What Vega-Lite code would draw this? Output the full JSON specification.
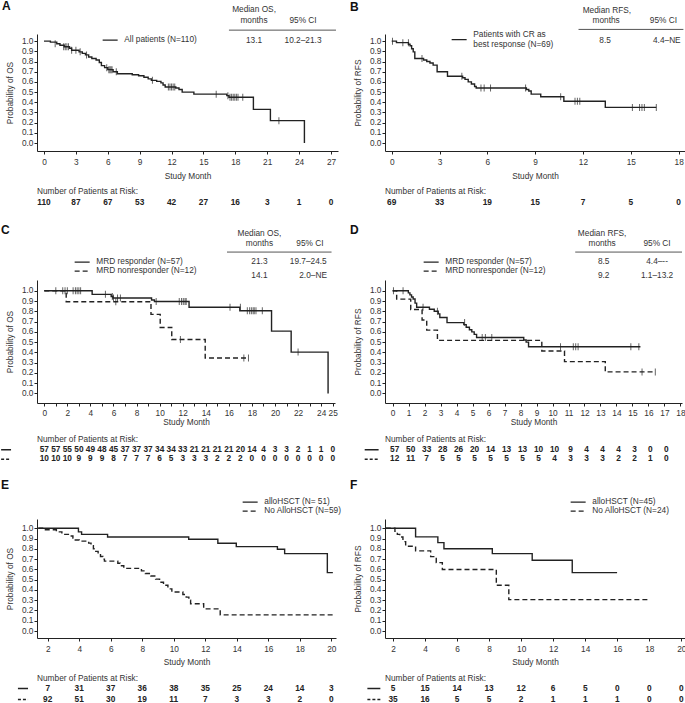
{
"$schema": "https://vega.github.io/schema/vega-lite/v6.json",
"padding": {"left": 0, "top": 0, "right": 0, "bottom": 0},
"background": "white",
"config": {
  "font": "Liberation Sans",
  "view": {"stroke": null},
  "axis": {"labelFontSize": 8.3, "labelColor": "#333", "titleFontSize": 8.3, "titleFontWeight": "normal", "titleColor": "#333", "domainColor": "#222", "tickColor": "#222", "tickSize": 3, "grid": false, "labelFlush": false, "labelOverlap": false},
  "axisX": {"titlePadding": 6.5, "labelPadding": 3},
  "axisY": {"titlePadding": 7, "labelPadding": 1},
  "legend": {"symbolType": "M-3,0H3", "symbolStrokeWidth": 1.4, "symbolSize": 25, "labelFontSize": 8.3, "labelColor": "#333", "rowPadding": 1, "labelOffset": 10, "padding": 0},
  "title": {"color": "#111"},
  "text": {"fontSize": 8.3, "color": "#333"}
},
"datasets": {
  "A_steps": [
    {"t":0,"s":1.0},{"t":0.6,"s":0.99},{"t":1.2,"s":0.975},{"t":1.5,"s":0.96},{"t":1.9,"s":0.945},{"t":2.4,"s":0.93},{"t":2.6,"s":0.91},{"t":3.3,"s":0.895},{"t":3.6,"s":0.88},{"t":3.9,"s":0.865},{"t":4.2,"s":0.845},{"t":4.5,"s":0.83},{"t":4.9,"s":0.815},{"t":5.2,"s":0.79},{"t":5.4,"s":0.76},{"t":5.7,"s":0.74},{"t":6.0,"s":0.72},{"t":6.5,"s":0.70},{"t":6.9,"s":0.68},{"t":8.3,"s":0.67},{"t":8.9,"s":0.66},{"t":9.4,"s":0.645},{"t":9.8,"s":0.63},{"t":10.1,"s":0.615},{"t":10.6,"s":0.605},{"t":11.0,"s":0.59},{"t":11.2,"s":0.57},{"t":11.4,"s":0.55},{"t":12.4,"s":0.54},{"t":12.7,"s":0.525},{"t":13.0,"s":0.50},{"t":14.1,"s":0.48},{"t":17.2,"s":0.465},{"t":17.4,"s":0.45},{"t":19.7,"s":0.33},{"t":21.3,"s":0.22},{"t":24.5,"s":0.0}
  ],
  "A_cens": [
    {"t":1.05,"s":0.975},{"t":1.85,"s":0.945},{"t":2.0,"s":0.945},{"t":2.15,"s":0.945},{"t":2.3,"s":0.945},{"t":2.6,"s":0.91},{"t":3.0,"s":0.91},{"t":3.4,"s":0.895},{"t":4.0,"s":0.865},{"t":5.9,"s":0.74},{"t":6.1,"s":0.72},{"t":6.2,"s":0.72},{"t":6.3,"s":0.72},{"t":6.4,"s":0.72},{"t":6.8,"s":0.70},{"t":10.2,"s":0.615},{"t":11.7,"s":0.55},{"t":11.85,"s":0.55},{"t":12.0,"s":0.55},{"t":12.15,"s":0.55},{"t":12.3,"s":0.55},{"t":16.2,"s":0.48},{"t":17.3,"s":0.465},{"t":17.5,"s":0.45},{"t":17.65,"s":0.45},{"t":17.8,"s":0.45},{"t":17.95,"s":0.45},{"t":18.1,"s":0.45},{"t":18.25,"s":0.45},{"t":18.7,"s":0.45},{"t":22.1,"s":0.22}
  ],
  "A_risk": [
    {"t":0,"n":110,"g":"solid"},{"t":3,"n":87,"g":"solid"},{"t":6,"n":67,"g":"solid"},{"t":9,"n":53,"g":"solid"},{"t":12,"n":42,"g":"solid"},{"t":15,"n":27,"g":"solid"},{"t":18,"n":16,"g":"solid"},{"t":21,"n":3,"g":"solid"},{"t":24,"n":1,"g":"solid"},{"t":27,"n":0,"g":"solid"}
  ],
  "B_steps": [
    {"t":0,"s":1.0},{"t":0.3,"s":0.985},{"t":1.05,"s":0.97},{"t":1.15,"s":0.955},{"t":1.25,"s":0.925},{"t":1.35,"s":0.895},{"t":1.45,"s":0.83},{"t":2.0,"s":0.815},{"t":2.2,"s":0.80},{"t":2.4,"s":0.785},{"t":2.6,"s":0.765},{"t":2.85,"s":0.70},{"t":3.5,"s":0.655},{"t":4.45,"s":0.64},{"t":4.6,"s":0.625},{"t":4.8,"s":0.60},{"t":5.0,"s":0.58},{"t":5.2,"s":0.555},{"t":5.3,"s":0.54},{"t":8.45,"s":0.525},{"t":8.6,"s":0.51},{"t":8.75,"s":0.48},{"t":9.35,"s":0.455},{"t":10.8,"s":0.41},{"t":13.4,"s":0.35},{"t":16.6,"s":0.35}
  ],
  "B_cens": [
    {"t":0.05,"s":1.0},{"t":0.7,"s":0.985},{"t":1.05,"s":0.985},{"t":1.9,"s":0.83},{"t":4.4,"s":0.655},{"t":5.6,"s":0.54},{"t":5.8,"s":0.54},{"t":6.2,"s":0.54},{"t":8.4,"s":0.54},{"t":10.6,"s":0.455},{"t":11.5,"s":0.41},{"t":11.65,"s":0.41},{"t":11.8,"s":0.41},{"t":15.1,"s":0.35},{"t":15.55,"s":0.35},{"t":15.7,"s":0.35},{"t":15.85,"s":0.35},{"t":16.6,"s":0.35}
  ],
  "B_risk": [
    {"t":0,"n":69,"g":"solid"},{"t":3,"n":33,"g":"solid"},{"t":6,"n":19,"g":"solid"},{"t":9,"n":15,"g":"solid"},{"t":12,"n":7,"g":"solid"},{"t":15,"n":5,"g":"solid"},{"t":18,"n":0,"g":"solid"}
  ],
  "C_steps": [
    {"t":0,"s":1.0,"g":"MRD responder (N=57)"},{"t":4.15,"s":0.965,"g":"MRD responder (N=57)"},{"t":5.8,"s":0.945,"g":"MRD responder (N=57)"},{"t":5.95,"s":0.93,"g":"MRD responder (N=57)"},{"t":9.3,"s":0.91,"g":"MRD responder (N=57)"},{"t":9.55,"s":0.895,"g":"MRD responder (N=57)"},{"t":12.55,"s":0.84,"g":"MRD responder (N=57)"},{"t":16.95,"s":0.805,"g":"MRD responder (N=57)"},{"t":19.7,"s":0.607,"g":"MRD responder (N=57)"},{"t":21.4,"s":0.403,"g":"MRD responder (N=57)"},{"t":24.6,"s":0.0,"g":"MRD responder (N=57)"},
    {"t":0,"s":1.0,"g":"MRD nonresponder (N=12)"},{"t":1.9,"s":0.893,"g":"MRD nonresponder (N=12)"},{"t":9.25,"s":0.77,"g":"MRD nonresponder (N=12)"},{"t":10.05,"s":0.643,"g":"MRD nonresponder (N=12)"},{"t":11.05,"s":0.525,"g":"MRD nonresponder (N=12)"},{"t":13.95,"s":0.345,"g":"MRD nonresponder (N=12)"},{"t":17.7,"s":0.345,"g":"MRD nonresponder (N=12)"}
  ],
  "C_cens": [
    {"t":1.0,"s":1.0},{"t":1.6,"s":1.0},{"t":1.8,"s":1.0},{"t":2.0,"s":1.0},{"t":2.5,"s":1.0},{"t":2.7,"s":1.0},{"t":2.85,"s":1.0},{"t":3.0,"s":1.0},{"t":3.15,"s":1.0},{"t":5.3,"s":0.965},{"t":5.9,"s":0.945},{"t":6.0,"s":0.93},{"t":6.35,"s":0.93},{"t":6.6,"s":0.93},{"t":9.7,"s":0.895},{"t":11.7,"s":0.895},{"t":11.9,"s":0.895},{"t":12.05,"s":0.895},{"t":12.2,"s":0.895},{"t":12.3,"s":0.895},{"t":16.1,"s":0.84},{"t":17.0,"s":0.84},{"t":17.6,"s":0.805},{"t":17.8,"s":0.805},{"t":17.95,"s":0.805},{"t":18.1,"s":0.805},{"t":18.2,"s":0.805},{"t":18.35,"s":0.805},{"t":18.9,"s":0.805},{"t":22.0,"s":0.403},
    {"t":6.2,"s":0.893},{"t":11.8,"s":0.525},{"t":17.3,"s":0.345},{"t":17.7,"s":0.345}
  ],
  "C_risk": [
    {"t":0,"n":57,"g":"solid"},{"t":1,"n":57,"g":"solid"},{"t":2,"n":55,"g":"solid"},{"t":3,"n":50,"g":"solid"},{"t":4,"n":49,"g":"solid"},{"t":5,"n":48,"g":"solid"},{"t":6,"n":45,"g":"solid"},{"t":7,"n":37,"g":"solid"},{"t":8,"n":37,"g":"solid"},{"t":9,"n":37,"g":"solid"},{"t":10,"n":34,"g":"solid"},{"t":11,"n":34,"g":"solid"},{"t":12,"n":33,"g":"solid"},{"t":13,"n":21,"g":"solid"},{"t":14,"n":21,"g":"solid"},{"t":15,"n":21,"g":"solid"},{"t":16,"n":21,"g":"solid"},{"t":17,"n":20,"g":"solid"},{"t":18,"n":14,"g":"solid"},{"t":19,"n":4,"g":"solid"},{"t":20,"n":3,"g":"solid"},{"t":21,"n":3,"g":"solid"},{"t":22,"n":2,"g":"solid"},{"t":23,"n":1,"g":"solid"},{"t":24,"n":1,"g":"solid"},{"t":25,"n":0,"g":"solid"},
    {"t":0,"n":10,"g":"dashed"},{"t":1,"n":10,"g":"dashed"},{"t":2,"n":10,"g":"dashed"},{"t":3,"n":9,"g":"dashed"},{"t":4,"n":9,"g":"dashed"},{"t":5,"n":9,"g":"dashed"},{"t":6,"n":8,"g":"dashed"},{"t":7,"n":7,"g":"dashed"},{"t":8,"n":7,"g":"dashed"},{"t":9,"n":7,"g":"dashed"},{"t":10,"n":6,"g":"dashed"},{"t":11,"n":5,"g":"dashed"},{"t":12,"n":3,"g":"dashed"},{"t":13,"n":3,"g":"dashed"},{"t":14,"n":3,"g":"dashed"},{"t":15,"n":2,"g":"dashed"},{"t":16,"n":2,"g":"dashed"},{"t":17,"n":2,"g":"dashed"},{"t":18,"n":0,"g":"dashed"},{"t":19,"n":0,"g":"dashed"},{"t":20,"n":0,"g":"dashed"},{"t":21,"n":0,"g":"dashed"},{"t":22,"n":0,"g":"dashed"},{"t":23,"n":0,"g":"dashed"},{"t":24,"n":0,"g":"dashed"},{"t":25,"n":0,"g":"dashed"}
  ],
  "D_steps": [
    {"t":0,"s":1.0,"g":"MRD responder (N=57)"},{"t":0.98,"s":0.98,"g":"MRD responder (N=57)"},{"t":1.08,"s":0.96,"g":"MRD responder (N=57)"},{"t":1.18,"s":0.94,"g":"MRD responder (N=57)"},{"t":1.28,"s":0.92,"g":"MRD responder (N=57)"},{"t":1.4,"s":0.88,"g":"MRD responder (N=57)"},{"t":1.5,"s":0.84,"g":"MRD responder (N=57)"},{"t":2.3,"s":0.82,"g":"MRD responder (N=57)"},{"t":2.6,"s":0.80,"g":"MRD responder (N=57)"},{"t":2.85,"s":0.775,"g":"MRD responder (N=57)"},{"t":2.95,"s":0.74,"g":"MRD responder (N=57)"},{"t":3.4,"s":0.69,"g":"MRD responder (N=57)"},{"t":4.45,"s":0.67,"g":"MRD responder (N=57)"},{"t":4.6,"s":0.645,"g":"MRD responder (N=57)"},{"t":4.8,"s":0.62,"g":"MRD responder (N=57)"},{"t":4.95,"s":0.60,"g":"MRD responder (N=57)"},{"t":5.1,"s":0.575,"g":"MRD responder (N=57)"},{"t":5.25,"s":0.545,"g":"MRD responder (N=57)"},{"t":8.2,"s":0.52,"g":"MRD responder (N=57)"},{"t":8.35,"s":0.50,"g":"MRD responder (N=57)"},{"t":8.5,"s":0.455,"g":"MRD responder (N=57)"},{"t":15.5,"s":0.455,"g":"MRD responder (N=57)"},
    {"t":0,"s":1.0,"g":"MRD nonresponder (N=12)"},{"t":0.25,"s":0.919,"g":"MRD nonresponder (N=12)"},{"t":1.13,"s":0.818,"g":"MRD nonresponder (N=12)"},{"t":1.84,"s":0.716,"g":"MRD nonresponder (N=12)"},{"t":2.13,"s":0.617,"g":"MRD nonresponder (N=12)"},{"t":2.8,"s":0.517,"g":"MRD nonresponder (N=12)"},{"t":9.33,"s":0.414,"g":"MRD nonresponder (N=12)"},{"t":10.75,"s":0.31,"g":"MRD nonresponder (N=12)"},{"t":13.3,"s":0.21,"g":"MRD nonresponder (N=12)"},{"t":16.43,"s":0.21,"g":"MRD nonresponder (N=12)"}
  ],
  "D_cens": [
    {"t":0.05,"s":1.0},{"t":0.65,"s":1.0},{"t":1.9,"s":0.84},{"t":2.8,"s":0.80},{"t":4.5,"s":0.69},{"t":5.6,"s":0.545},{"t":5.8,"s":0.545},{"t":6.2,"s":0.545},{"t":10.5,"s":0.455},{"t":11.3,"s":0.455},{"t":11.45,"s":0.455},{"t":11.6,"s":0.455},{"t":14.9,"s":0.455},{"t":15.4,"s":0.455},
    {"t":15.6,"s":0.21},{"t":16.43,"s":0.21}
  ],
  "D_risk": [
    {"t":0,"n":57,"g":"solid"},{"t":1,"n":50,"g":"solid"},{"t":2,"n":33,"g":"solid"},{"t":3,"n":28,"g":"solid"},{"t":4,"n":26,"g":"solid"},{"t":5,"n":20,"g":"solid"},{"t":6,"n":14,"g":"solid"},{"t":7,"n":13,"g":"solid"},{"t":8,"n":13,"g":"solid"},{"t":9,"n":10,"g":"solid"},{"t":10,"n":10,"g":"solid"},{"t":11,"n":9,"g":"solid"},{"t":12,"n":4,"g":"solid"},{"t":13,"n":4,"g":"solid"},{"t":14,"n":4,"g":"solid"},{"t":15,"n":3,"g":"solid"},{"t":16,"n":0,"g":"solid"},{"t":17,"n":0,"g":"solid"},
    {"t":0,"n":12,"g":"dashed"},{"t":1,"n":11,"g":"dashed"},{"t":2,"n":7,"g":"dashed"},{"t":3,"n":5,"g":"dashed"},{"t":4,"n":5,"g":"dashed"},{"t":5,"n":5,"g":"dashed"},{"t":6,"n":5,"g":"dashed"},{"t":7,"n":5,"g":"dashed"},{"t":8,"n":5,"g":"dashed"},{"t":9,"n":5,"g":"dashed"},{"t":10,"n":4,"g":"dashed"},{"t":11,"n":3,"g":"dashed"},{"t":12,"n":3,"g":"dashed"},{"t":13,"n":3,"g":"dashed"},{"t":14,"n":2,"g":"dashed"},{"t":15,"n":2,"g":"dashed"},{"t":16,"n":1,"g":"dashed"},{"t":17,"n":0,"g":"dashed"}
  ],
  "E_steps": [
    {"t":1.4,"s":1.0,"g":"alloHSCT (N= 51)"},{"t":3.95,"s":0.965,"g":"alloHSCT (N= 51)"},{"t":4.15,"s":0.94,"g":"alloHSCT (N= 51)"},{"t":5.8,"s":0.915,"g":"alloHSCT (N= 51)"},{"t":10.95,"s":0.893,"g":"alloHSCT (N= 51)"},{"t":12.8,"s":0.854,"g":"alloHSCT (N= 51)"},{"t":13.97,"s":0.821,"g":"alloHSCT (N= 51)"},{"t":16.58,"s":0.795,"g":"alloHSCT (N= 51)"},{"t":17.04,"s":0.753,"g":"alloHSCT (N= 51)"},{"t":19.75,"s":0.568,"g":"alloHSCT (N= 51)"},{"t":20.1,"s":0.568,"g":"alloHSCT (N= 51)"},
    {"t":1.4,"s":1.0,"g":"No AlloHSCT (N=59)"},{"t":1.8,"s":0.985,"g":"No AlloHSCT (N=59)"},{"t":2.55,"s":0.965,"g":"No AlloHSCT (N=59)"},{"t":2.9,"s":0.94,"g":"No AlloHSCT (N=59)"},{"t":3.4,"s":0.925,"g":"No AlloHSCT (N=59)"},{"t":3.6,"s":0.905,"g":"No AlloHSCT (N=59)"},{"t":3.75,"s":0.885,"g":"No AlloHSCT (N=59)"},{"t":4.0,"s":0.875,"g":"No AlloHSCT (N=59)"},{"t":4.6,"s":0.855,"g":"No AlloHSCT (N=59)"},{"t":4.75,"s":0.83,"g":"No AlloHSCT (N=59)"},{"t":4.9,"s":0.80,"g":"No AlloHSCT (N=59)"},{"t":5.05,"s":0.775,"g":"No AlloHSCT (N=59)"},{"t":5.2,"s":0.75,"g":"No AlloHSCT (N=59)"},{"t":5.35,"s":0.725,"g":"No AlloHSCT (N=59)"},{"t":5.5,"s":0.70,"g":"No AlloHSCT (N=59)"},{"t":5.6,"s":0.68,"g":"No AlloHSCT (N=59)"},{"t":6.45,"s":0.66,"g":"No AlloHSCT (N=59)"},{"t":6.6,"s":0.635,"g":"No AlloHSCT (N=59)"},{"t":6.83,"s":0.61,"g":"No AlloHSCT (N=59)"},{"t":7.95,"s":0.585,"g":"No AlloHSCT (N=59)"},{"t":8.2,"s":0.56,"g":"No AlloHSCT (N=59)"},{"t":8.55,"s":0.535,"g":"No AlloHSCT (N=59)"},{"t":8.85,"s":0.505,"g":"No AlloHSCT (N=59)"},{"t":9.1,"s":0.475,"g":"No AlloHSCT (N=59)"},{"t":9.35,"s":0.445,"g":"No AlloHSCT (N=59)"},{"t":9.63,"s":0.41,"g":"No AlloHSCT (N=59)"},{"t":9.88,"s":0.38,"g":"No AlloHSCT (N=59)"},{"t":10.58,"s":0.355,"g":"No AlloHSCT (N=59)"},{"t":10.79,"s":0.33,"g":"No AlloHSCT (N=59)"},{"t":10.96,"s":0.30,"g":"No AlloHSCT (N=59)"},{"t":11.07,"s":0.265,"g":"No AlloHSCT (N=59)"},{"t":11.9,"s":0.215,"g":"No AlloHSCT (N=59)"},{"t":12.95,"s":0.157,"g":"No AlloHSCT (N=59)"},{"t":20.1,"s":0.157,"g":"No AlloHSCT (N=59)"}
  ],
  "E_risk": [
    {"t":2,"n":7,"g":"solid"},{"t":4,"n":31,"g":"solid"},{"t":6,"n":37,"g":"solid"},{"t":8,"n":36,"g":"solid"},{"t":10,"n":38,"g":"solid"},{"t":12,"n":35,"g":"solid"},{"t":14,"n":25,"g":"solid"},{"t":16,"n":24,"g":"solid"},{"t":18,"n":14,"g":"solid"},{"t":20,"n":3,"g":"solid"},
    {"t":2,"n":92,"g":"dashed"},{"t":4,"n":51,"g":"dashed"},{"t":6,"n":30,"g":"dashed"},{"t":8,"n":19,"g":"dashed"},{"t":10,"n":11,"g":"dashed"},{"t":12,"n":7,"g":"dashed"},{"t":14,"n":3,"g":"dashed"},{"t":16,"n":3,"g":"dashed"},{"t":18,"n":2,"g":"dashed"},{"t":20,"n":0,"g":"dashed"}
  ],
  "F_steps": [
    {"t":1.55,"s":1.0,"g":"alloHSCT (N=45)"},{"t":3.41,"s":0.916,"g":"alloHSCT (N=45)"},{"t":4.8,"s":0.86,"g":"alloHSCT (N=45)"},{"t":5.18,"s":0.80,"g":"alloHSCT (N=45)"},{"t":8.2,"s":0.753,"g":"alloHSCT (N=45)"},{"t":10.69,"s":0.688,"g":"alloHSCT (N=45)"},{"t":13.19,"s":0.568,"g":"alloHSCT (N=45)"},{"t":15.99,"s":0.568,"g":"alloHSCT (N=45)"},
    {"t":1.55,"s":1.0,"g":"No AlloHSCT (N=24)"},{"t":2.12,"s":0.97,"g":"No AlloHSCT (N=24)"},{"t":2.27,"s":0.94,"g":"No AlloHSCT (N=24)"},{"t":2.42,"s":0.915,"g":"No AlloHSCT (N=24)"},{"t":2.62,"s":0.87,"g":"No AlloHSCT (N=24)"},{"t":2.79,"s":0.825,"g":"No AlloHSCT (N=24)"},{"t":3.41,"s":0.78,"g":"No AlloHSCT (N=24)"},{"t":4.35,"s":0.724,"g":"No AlloHSCT (N=24)"},{"t":4.7,"s":0.665,"g":"No AlloHSCT (N=24)"},{"t":5.08,"s":0.598,"g":"No AlloHSCT (N=24)"},{"t":8.45,"s":0.445,"g":"No AlloHSCT (N=24)"},{"t":9.23,"s":0.305,"g":"No AlloHSCT (N=24)"},{"t":17.97,"s":0.305,"g":"No AlloHSCT (N=24)"}
  ],
  "F_risk": [
    {"t":2,"n":5,"g":"solid"},{"t":4,"n":15,"g":"solid"},{"t":6,"n":14,"g":"solid"},{"t":8,"n":13,"g":"solid"},{"t":10,"n":12,"g":"solid"},{"t":12,"n":6,"g":"solid"},{"t":14,"n":5,"g":"solid"},{"t":16,"n":0,"g":"solid"},{"t":18,"n":0,"g":"solid"},{"t":20,"n":0,"g":"solid"},
    {"t":2,"n":35,"g":"dashed"},{"t":4,"n":16,"g":"dashed"},{"t":6,"n":5,"g":"dashed"},{"t":8,"n":5,"g":"dashed"},{"t":10,"n":2,"g":"dashed"},{"t":12,"n":1,"g":"dashed"},{"t":14,"n":1,"g":"dashed"},{"t":16,"n":1,"g":"dashed"},{"t":18,"n":0,"g":"dashed"},{"t":20,"n":0,"g":"dashed"}
  ],
  "groups2": [{"g":"solid"},{"g":"dashed"}]
},
"columns": 2,
"align": "each",
"spacing": {"row": 15, "column": 8},
"resolve": {"scale": {"x": "independent", "y": "independent", "strokeDash": "independent"}, "legend": {"strokeDash": "independent"}},
"concat": [
 {
  "spacing": 5,
  "resolve": {"scale": {"x": "independent", "y": "independent", "strokeDash": "independent"}, "legend": {"strokeDash": "independent"}},
  "vconcat": [
   {
    "width": 301, "height": 117,
    "title": {"text": "A", "anchor": "start", "frame": "group", "dx": -35, "offset": -8, "fontSize": 12, "fontWeight": "bold"},
    "resolve": {"axis": {"x": "independent", "y": "independent"}},
    "layer": [
     {"data": {"name": "A_steps"}, "mark": {"type": "line", "interpolate": "step-after", "strokeWidth": 1.4, "color": "#222"},
      "encoding": {
       "x": {"field": "t", "type": "quantitative", "scale": {"domain": [-0.66, 27.66], "nice": false, "zero": false}, "axis": {"values": [0,3,6,9,12,15,18,21,24,27], "format": "d", "title": "Study Month", "labelOverlap": false}},
       "y": {"field": "s", "type": "quantitative", "scale": {"domain": [-0.078, 1.07], "nice": false, "zero": false}, "axis": {"values": [0,0.1,0.2,0.3,0.4,0.5,0.6,0.7,0.8,0.9,1], "format": ".1f", "title": "Probability of OS", "labelOverlap": false}},
       "strokeDash": {"datum": "All patients (N=110)", "scale": {"domain": ["All patients (N=110)"], "range": [[1,0]]}, "legend": {"title": null, "orient": "none", "legendX": 69, "legendY": 2}}
      }},
     {"data": {"name": "A_cens"}, "mark": {"type": "tick", "orient": "vertical", "size": 7, "thickness": 1, "color": "#222"},
      "encoding": {"x": {"field": "t", "type": "quantitative", "axis": null}, "y": {"field": "s", "type": "quantitative", "axis": null}}},
     {"data": {"values": [{}]}, "mark": {"type": "text", "text": "Median OS,"}, "encoding": {"x": {"datum": 19.76, "axis": null}, "y": {"datum": 1.301, "axis": null}}},
     {"data": {"values": [{}]}, "mark": {"type": "text", "text": "months"}, "encoding": {"x": {"datum": 19.76, "axis": null}, "y": {"datum": 1.196, "axis": null}}},
     {"data": {"values": [{}]}, "mark": {"type": "text", "text": "95% CI"}, "encoding": {"x": {"datum": 24.37, "axis": null}, "y": {"datum": 1.196, "axis": null}}},
     {"data": {"values": [{}]}, "mark": {"type": "rule", "color": "#555", "strokeWidth": 1}, "encoding": {"x": {"datum": 17.4, "axis": null}, "x2": {"datum": 27.47}, "y": {"datum": 1.108, "axis": null}}},
     {"data": {"values": [{}]}, "mark": {"type": "text", "text": "13.1"}, "encoding": {"x": {"datum": 19.76, "axis": null}, "y": {"datum": 1.0, "axis": null}}},
     {"data": {"values": [{}]}, "mark": {"type": "text", "text": "10.2–21.3"}, "encoding": {"x": {"datum": 24.37, "axis": null}, "y": {"datum": 1.0, "axis": null}}}
    ]
   },
   {
    "width": 301, "height": 12,
    "title": {"text": "Number of Patients at Risk:", "anchor": "start", "frame": "group", "fontSize": 8.3, "fontWeight": "normal", "offset": 2, "color": "#333"},
    "data": {"name": "A_risk"},
    "mark": {"type": "text", "fontWeight": "bold", "fontSize": 8.3, "color": "#222"},
    "encoding": {
     "x": {"field": "t", "type": "quantitative", "scale": {"domain": [-0.66, 27.66], "nice": false, "zero": false}, "axis": null},
     "y": {"field": "g", "type": "nominal", "axis": null},
     "text": {"field": "n", "type": "quantitative"}
    }
   }
  ]
 },
 {
  "spacing": 5,
  "resolve": {"scale": {"x": "independent", "y": "independent", "strokeDash": "independent"}, "legend": {"strokeDash": "independent"}},
  "vconcat": [
   {
    "width": 300, "height": 117,
    "title": {"text": "B", "anchor": "start", "frame": "group", "dx": -35, "offset": -8, "fontSize": 12, "fontWeight": "bold"},
    "resolve": {"axis": {"x": "independent", "y": "independent"}},
    "layer": [
     {"data": {"name": "B_steps"}, "mark": {"type": "line", "interpolate": "step-after", "strokeWidth": 1.4, "color": "#222"},
      "encoding": {
       "x": {"field": "t", "type": "quantitative", "scale": {"domain": [-0.42, 18.4], "nice": false, "zero": false}, "axis": {"values": [0,3,6,9,12,15,18], "format": "d", "title": "Study Month", "labelOverlap": false}},
       "y": {"field": "s", "type": "quantitative", "scale": {"domain": [-0.078, 1.07], "nice": false, "zero": false}, "axis": {"values": [0,0.1,0.2,0.3,0.4,0.5,0.6,0.7,0.8,0.9,1], "format": ".1f", "title": "Probability of RFS", "labelOverlap": false}},
       "strokeDash": {"datum": "Patients with CR as best response (N=69)", "scale": {"domain": ["Patients with CR as best response (N=69)"], "range": [[1,0]]}, "legend": {"title": null, "orient": "none", "legendX": 70, "legendY": -3, "symbolType": "M-3,1.8H3", "labelExpr": "['Patients with CR as', 'best response (N=69)']"}}
      }},
     {"data": {"name": "B_cens"}, "mark": {"type": "tick", "orient": "vertical", "size": 7, "thickness": 1, "color": "#222"},
      "encoding": {"x": {"field": "t", "type": "quantitative", "axis": null}, "y": {"field": "s", "type": "quantitative", "axis": null}}},
     {"data": {"values": [{}]}, "mark": {"type": "text", "text": "Median RFS,"}, "encoding": {"x": {"datum": 13.5, "axis": null}, "y": {"datum": 1.294, "axis": null}}},
     {"data": {"values": [{}]}, "mark": {"type": "text", "text": "months"}, "encoding": {"x": {"datum": 13.45, "axis": null}, "y": {"datum": 1.196, "axis": null}}},
     {"data": {"values": [{}]}, "mark": {"type": "text", "text": "95% CI"}, "encoding": {"x": {"datum": 17.05, "axis": null}, "y": {"datum": 1.196, "axis": null}}},
     {"data": {"values": [{}]}, "mark": {"type": "rule", "color": "#555", "strokeWidth": 1}, "encoding": {"x": {"datum": 11.72, "axis": null}, "x2": {"datum": 18.3}, "y": {"datum": 1.115, "axis": null}}},
     {"data": {"values": [{}]}, "mark": {"type": "text", "text": "8.5"}, "encoding": {"x": {"datum": 13.39, "axis": null}, "y": {"datum": 1.0, "axis": null}}},
     {"data": {"values": [{}]}, "mark": {"type": "text", "text": "4.4–NE"}, "encoding": {"x": {"datum": 17.26, "axis": null}, "y": {"datum": 1.0, "axis": null}}}
    ]
   },
   {
    "width": 300, "height": 12,
    "title": {"text": "Number of Patients at Risk:", "anchor": "start", "frame": "group", "fontSize": 8.3, "fontWeight": "normal", "offset": 2, "color": "#333"},
    "data": {"name": "B_risk"},
    "mark": {"type": "text", "fontWeight": "bold", "fontSize": 8.3, "color": "#222"},
    "encoding": {
     "x": {"field": "t", "type": "quantitative", "scale": {"domain": [-0.42, 18.4], "nice": false, "zero": false}, "axis": null},
     "y": {"field": "g", "type": "nominal", "axis": null},
     "text": {"field": "n", "type": "quantitative"}
    }
   }
  ]
 },
 {
  "spacing": 9,
  "resolve": {"scale": {"x": "independent", "y": "independent", "strokeDash": "independent"}, "legend": {"strokeDash": "independent"}},
  "vconcat": [
   {
    "width": 298, "height": 123,
    "title": {"text": "C", "anchor": "start", "frame": "group", "dx": -36, "offset": -8, "fontSize": 12, "fontWeight": "bold"},
    "resolve": {"axis": {"x": "independent", "y": "independent"}},
    "layer": [
     {"data": {"name": "C_steps"}, "mark": {"type": "line", "interpolate": "step-after", "strokeWidth": 1.4, "color": "#222"},
      "encoding": {
       "x": {"field": "t", "type": "quantitative", "scale": {"domain": [-0.63, 25.2], "nice": false, "zero": false}, "axis": {"values": [0,1,2,3,4,5,6,7,8,9,10,11,12,13,14,15,16,17,18,19,20,21,22,23,24,25], "labelExpr": "(datum.value % 2 === 0 || datum.value === 25) ? datum.label : ''", "title": "Study Month", "labelOverlap": false, "titlePadding": 1, "labelPadding": 2}},
       "y": {"field": "s", "type": "quantitative", "scale": {"domain": [-0.093, 1.105], "nice": false, "zero": false}, "axis": {"values": [0,0.1,0.2,0.3,0.4,0.5,0.6,0.7,0.8,0.9,1], "format": ".1f", "title": "Probability of OS", "labelOverlap": false}},
       "strokeDash": {"field": "g", "type": "nominal", "scale": {"domain": ["MRD responder (N=57)", "MRD nonresponder (N=12)"], "range": [[1,0],[5,3]]}, "legend": {"title": null, "orient": "none", "legendX": 41, "legendY": -22, "rowPadding": 0}}
      }},
     {"data": {"name": "C_cens"}, "mark": {"type": "tick", "orient": "vertical", "size": 7, "thickness": 1, "color": "#222"},
      "encoding": {"x": {"field": "t", "type": "quantitative", "axis": null}, "y": {"field": "s", "type": "quantitative", "axis": null}}},
     {"data": {"values": [{}]}, "mark": {"type": "text", "text": "Median OS,"}, "encoding": {"x": {"datum": 18.65, "axis": null}, "y": {"datum": 1.55, "axis": null}}},
     {"data": {"values": [{}]}, "mark": {"type": "text", "text": "months"}, "encoding": {"x": {"datum": 18.65, "axis": null}, "y": {"datum": 1.455, "axis": null}}},
     {"data": {"values": [{}]}, "mark": {"type": "text", "text": "95% CI"}, "encoding": {"x": {"datum": 23.03, "axis": null}, "y": {"datum": 1.455, "axis": null}}},
     {"data": {"values": [{}]}, "mark": {"type": "rule", "color": "#555", "strokeWidth": 1}, "encoding": {"x": {"datum": 15.84, "axis": null}, "x2": {"datum": 24.9}, "y": {"datum": 1.377, "axis": null}}},
     {"data": {"values": [{}]}, "mark": {"type": "text", "text": "21.3"}, "encoding": {"x": {"datum": 18.65, "axis": null}, "y": {"datum": 1.28, "axis": null}}},
     {"data": {"values": [{}]}, "mark": {"type": "text", "text": "19.7–24.5"}, "encoding": {"x": {"datum": 22.88, "axis": null}, "y": {"datum": 1.28, "axis": null}}},
     {"data": {"values": [{}]}, "mark": {"type": "text", "text": "14.1"}, "encoding": {"x": {"datum": 18.65, "axis": null}, "y": {"datum": 1.14, "axis": null}}},
     {"data": {"values": [{}]}, "mark": {"type": "text", "text": "2.0–NE"}, "encoding": {"x": {"datum": 23.3, "axis": null}, "y": {"datum": 1.14, "axis": null}}}
    ]
   },
   {
    "width": 298, "height": 19,
    "title": {"text": "Number of Patients at Risk:", "anchor": "start", "frame": "group", "fontSize": 8.3, "fontWeight": "normal", "offset": 1, "color": "#333"},
    "layer": [
     {"data": {"name": "C_risk"},
      "mark": {"type": "text", "fontWeight": "bold", "fontSize": 8.3, "color": "#222"},
      "encoding": {
       "x": {"field": "t", "type": "quantitative", "scale": {"domain": [-0.63, 25.2], "nice": false, "zero": false}, "axis": null},
       "y": {"field": "g", "type": "nominal", "scale": {"domain": ["solid", "dashed"]}, "axis": null},
       "text": {"field": "n", "type": "quantitative"}
      }},
     {"data": {"name": "groups2"},
      "mark": {"type": "rule", "strokeWidth": 1.4, "color": "#222"},
      "encoding": {
       "x": {"datum": -3.74}, "x2": {"datum": -2.88},
       "y": {"field": "g", "type": "nominal"},
       "strokeDash": {"field": "g", "type": "nominal", "scale": {"domain": ["solid", "dashed"], "range": [[1,0],[3,2]]}, "legend": null}
      }}
    ]
   }
  ]
 },
 {
  "spacing": 9,
  "resolve": {"scale": {"x": "independent", "y": "independent", "strokeDash": "independent"}, "legend": {"strokeDash": "independent"}},
  "vconcat": [
   {
    "width": 297, "height": 123,
    "title": {"text": "D", "anchor": "start", "frame": "group", "dx": -35, "offset": -8, "fontSize": 12, "fontWeight": "bold"},
    "resolve": {"axis": {"x": "independent", "y": "independent"}},
    "layer": [
     {"data": {"name": "D_steps"}, "mark": {"type": "line", "interpolate": "step-after", "strokeWidth": 1.4, "color": "#222"},
      "encoding": {
       "x": {"field": "t", "type": "quantitative", "scale": {"domain": [-0.48, 18.1], "nice": false, "zero": false}, "axis": {"values": [0,1,2,3,4,5,6,7,8,9,10,11,12,13,14,15,16,17,18], "format": "d", "title": "Study Month", "labelOverlap": false, "titlePadding": 1, "labelPadding": 2}},
       "y": {"field": "s", "type": "quantitative", "scale": {"domain": [-0.093, 1.105], "nice": false, "zero": false}, "axis": {"values": [0,0.1,0.2,0.3,0.4,0.5,0.6,0.7,0.8,0.9,1], "format": ".1f", "title": "Probability of RFS", "labelOverlap": false}},
       "strokeDash": {"field": "g", "type": "nominal", "scale": {"domain": ["MRD responder (N=57)", "MRD nonresponder (N=12)"], "range": [[1,0],[5,3]]}, "legend": {"title": null, "orient": "none", "legendX": 42, "legendY": -22, "rowPadding": 0}}
      }},
     {"data": {"name": "D_cens"}, "mark": {"type": "tick", "orient": "vertical", "size": 7, "thickness": 1, "color": "#222"},
      "encoding": {"x": {"field": "t", "type": "quantitative", "axis": null}, "y": {"field": "s", "type": "quantitative", "axis": null}}},
     {"data": {"values": [{}]}, "mark": {"type": "text", "text": "Median RFS,"}, "encoding": {"x": {"datum": 13.1, "axis": null}, "y": {"datum": 1.55, "axis": null}}},
     {"data": {"values": [{}]}, "mark": {"type": "text", "text": "months"}, "encoding": {"x": {"datum": 13.1, "axis": null}, "y": {"datum": 1.455, "axis": null}}},
     {"data": {"values": [{}]}, "mark": {"type": "text", "text": "95% CI"}, "encoding": {"x": {"datum": 16.54, "axis": null}, "y": {"datum": 1.455, "axis": null}}},
     {"data": {"values": [{}]}, "mark": {"type": "rule", "color": "#555", "strokeWidth": 1}, "encoding": {"x": {"datum": 11.42, "axis": null}, "x2": {"datum": 18.1}, "y": {"datum": 1.377, "axis": null}}},
     {"data": {"values": [{}]}, "mark": {"type": "text", "text": "8.5"}, "encoding": {"x": {"datum": 13.2, "axis": null}, "y": {"datum": 1.28, "axis": null}}},
     {"data": {"values": [{}]}, "mark": {"type": "text", "text": "4.4–--"}, "encoding": {"x": {"datum": 16.54, "axis": null}, "y": {"datum": 1.28, "axis": null}}},
     {"data": {"values": [{}]}, "mark": {"type": "text", "text": "9.2"}, "encoding": {"x": {"datum": 13.2, "axis": null}, "y": {"datum": 1.14, "axis": null}}},
     {"data": {"values": [{}]}, "mark": {"type": "text", "text": "1.1–13.2"}, "encoding": {"x": {"datum": 16.54, "axis": null}, "y": {"datum": 1.14, "axis": null}}}
    ]
   },
   {
    "width": 297, "height": 19,
    "title": {"text": "Number of Patients at Risk:", "anchor": "start", "frame": "group", "fontSize": 8.3, "fontWeight": "normal", "offset": 1, "color": "#333"},
    "layer": [
     {"data": {"name": "D_risk"},
      "mark": {"type": "text", "fontWeight": "bold", "fontSize": 8.3, "color": "#222", "dx": 2},
      "encoding": {
       "x": {"field": "t", "type": "quantitative", "scale": {"domain": [-0.48, 18.1], "nice": false, "zero": false}, "axis": null},
       "y": {"field": "g", "type": "nominal", "scale": {"domain": ["solid", "dashed"]}, "axis": null},
       "text": {"field": "n", "type": "quantitative"}
      }},
     {"data": {"name": "groups2"},
      "mark": {"type": "rule", "strokeWidth": 1.4, "color": "#222"},
      "encoding": {
       "x": {"datum": -1.75}, "x2": {"datum": -0.88},
       "y": {"field": "g", "type": "nominal"},
       "strokeDash": {"field": "g", "type": "nominal", "scale": {"domain": ["solid", "dashed"], "range": [[1,0],[3,2]]}, "legend": null}
      }}
    ]
   }
  ]
 },
 {
  "spacing": 7,
  "resolve": {"scale": {"x": "independent", "y": "independent", "strokeDash": "independent"}, "legend": {"strokeDash": "independent"}},
  "vconcat": [
   {
    "width": 299, "height": 119,
    "title": {"text": "E", "anchor": "start", "frame": "group", "dx": -36, "offset": 6, "fontSize": 12, "fontWeight": "bold"},
    "layer": [
     {"data": {"name": "E_steps"}, "mark": {"type": "line", "interpolate": "step-after", "strokeWidth": 1.4, "color": "#222"},
      "encoding": {
       "x": {"field": "t", "type": "quantitative", "scale": {"domain": [1.32, 20.3], "nice": false, "zero": false}, "axis": {"values": [2,4,6,8,10,12,14,16,18,20], "format": "d", "title": "Study Month", "labelOverlap": false, "titlePadding": 5}},
       "y": {"field": "s", "type": "quantitative", "scale": {"domain": [-0.068, 1.09], "nice": false, "zero": false}, "axis": {"values": [0,0.1,0.2,0.3,0.4,0.5,0.6,0.7,0.8,0.9,1], "format": ".1f", "title": "Probability of OS", "labelOverlap": false}},
       "strokeDash": {"field": "g", "type": "nominal", "scale": {"domain": ["alloHSCT (N= 51)", "No AlloHSCT (N=59)"], "range": [[1,0],[5,3]]}, "legend": {"title": null, "orient": "none", "legendX": 209, "legendY": -21, "rowPadding": 0}}
      }}
    ]
   },
   {
    "width": 299, "height": 22,
    "title": {"text": "Number of Patients at Risk:", "anchor": "start", "frame": "group", "fontSize": 8.3, "fontWeight": "normal", "offset": 1, "color": "#333"},
    "layer": [
     {"data": {"name": "E_risk"},
      "mark": {"type": "text", "fontWeight": "bold", "fontSize": 8.3, "color": "#222"},
      "encoding": {
       "x": {"field": "t", "type": "quantitative", "scale": {"domain": [1.32, 20.3], "nice": false, "zero": false}, "axis": null},
       "y": {"field": "g", "type": "nominal", "scale": {"domain": ["solid", "dashed"]}, "axis": null},
       "text": {"field": "n", "type": "quantitative"}
      }},
     {"data": {"name": "groups2"},
      "mark": {"type": "rule", "strokeWidth": 1.4, "color": "#222"},
      "encoding": {
       "x": {"datum": 0.11}, "x2": {"datum": 0.75},
       "y": {"field": "g", "type": "nominal"},
       "strokeDash": {"field": "g", "type": "nominal", "scale": {"domain": ["solid", "dashed"], "range": [[1,0],[3,2]]}, "legend": null}
      }}
    ]
   }
  ]
 },
 {
  "spacing": 7,
  "resolve": {"scale": {"x": "independent", "y": "independent", "strokeDash": "independent"}, "legend": {"strokeDash": "independent"}},
  "vconcat": [
   {
    "width": 300, "height": 119,
    "title": {"text": "F", "anchor": "start", "frame": "group", "dx": -35, "offset": 6, "fontSize": 12, "fontWeight": "bold"},
    "layer": [
     {"data": {"name": "F_steps"}, "mark": {"type": "line", "interpolate": "step-after", "strokeWidth": 1.4, "color": "#222"},
      "encoding": {
       "x": {"field": "t", "type": "quantitative", "scale": {"domain": [1.5, 20.23], "nice": false, "zero": false}, "axis": {"values": [2,4,6,8,10,12,14,16,18,20], "format": "d", "title": "Study Month", "labelOverlap": false, "titlePadding": 5}},
       "y": {"field": "s", "type": "quantitative", "scale": {"domain": [-0.068, 1.09], "nice": false, "zero": false}, "axis": {"values": [0,0.1,0.2,0.3,0.4,0.5,0.6,0.7,0.8,0.9,1], "format": ".1f", "title": "Probability of RFS", "labelOverlap": false}},
       "strokeDash": {"field": "g", "type": "nominal", "scale": {"domain": ["alloHSCT (N=45)", "No AlloHSCT (N=24)"], "range": [[1,0],[5,3]]}, "legend": {"title": null, "orient": "none", "legendX": 189, "legendY": -21, "rowPadding": 0}}
      }}
    ]
   },
   {
    "width": 300, "height": 22,
    "title": {"text": "Number of Patients at Risk:", "anchor": "start", "frame": "group", "fontSize": 8.3, "fontWeight": "normal", "offset": 1, "color": "#333"},
    "layer": [
     {"data": {"name": "F_risk"},
      "mark": {"type": "text", "fontWeight": "bold", "fontSize": 8.3, "color": "#222"},
      "encoding": {
       "x": {"field": "t", "type": "quantitative", "scale": {"domain": [1.5, 20.23], "nice": false, "zero": false}, "axis": null},
       "y": {"field": "g", "type": "nominal", "scale": {"domain": ["solid", "dashed"]}, "axis": null},
       "text": {"field": "n", "type": "quantitative"}
      }},
     {"data": {"name": "groups2"},
      "mark": {"type": "rule", "strokeWidth": 1.4, "color": "#222"},
      "encoding": {
       "x": {"datum": 0.4}, "x2": {"datum": 1.21},
       "y": {"field": "g", "type": "nominal"},
       "strokeDash": {"field": "g", "type": "nominal", "scale": {"domain": ["solid", "dashed"], "range": [[1,0],[3,2]]}, "legend": null}
      }}
    ]
   }
  ]
 }
]
}
